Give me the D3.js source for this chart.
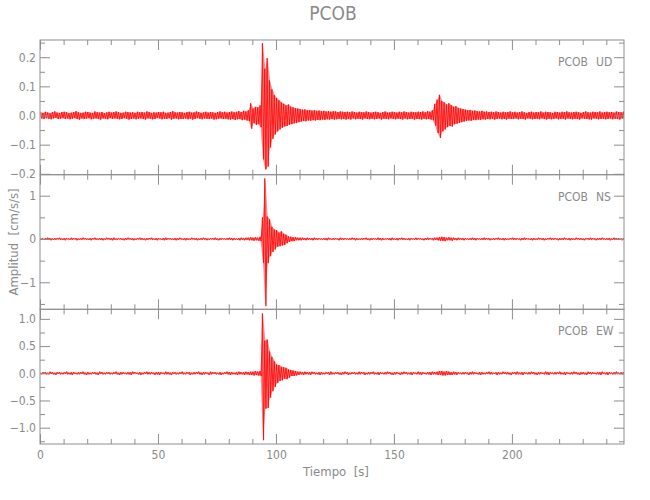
<!DOCTYPE html>
<html><head><meta charset="utf-8">
<script src="https://cdn.jsdelivr.net/npm/d3@7"></script>
<style>
body{margin:0;background:#fff;}
text{font-family:"Liberation Sans Narrow","DejaVu Sans Condensed","Roboto Condensed","Liberation Sans",sans-serif;font-stretch:condensed;fill:#8a8a8a;white-space:pre;}
</style></head><body>
<svg id="c" width="650" height="500"></svg>
<script>
// ---- data (1-second bins: positive and negative excursion of each trace) ----
const title = "PCOB";
const station = "PCOB";
const components = ["UD", "NS", "EW"];
const timeRange = [0, 247.5];
const xMajorTicks = [0, 50, 100, 150, 200];
const xMinorStep = 10;
// units: UD in 0.001 cm/s/s ; NS, EW in 0.01 cm/s/s
const udUnit = 0.001, nsUnit = 0.01, ewUnit = 0.01;
const udHi = [
11,9,13,10,8,12,14,10,9,12, 13,11,8,10,12,15,11,9,10,13, 12,10,9,14,11,10,12,8,11,13,
10,12,14,11,9,10,13,12,10,11, 9,13,11,12,10,14,12,9,11,10, 12,11,13,9,10,12,15,11,10,12,
11,9,12,13,10,11,14,12,9,11, 13,10,12,11,9,12,14,11,13,10, 12,14,11,13,15,12,16,14,18,42,
24,30,28,35,248,160,197,120,90,70, 60,52,45,40,35,38,30,28,25,24, 22,20,21,18,19,17,18,16,17,15,
16,14,15,13,15,14,12,14,13,12, 13,11,14,12,10,13,12,11,14,12, 10,12,13,11,9,12,14,10,11,13,
12,10,13,11,14,12,10,13,12,11, 13,12,14,11,15,13,18,40,55,71, 50,45,38,42,35,30,32,26,24,22,
20,18,19,16,17,15,14,16,13,14, 12,13,11,14,12,10,13,11,12,14, 11,13,10,12,14,11,9,12,13,10,
12,11,14,10,13,12,11,9,13,12, 10,13,12,14,11,10,12,13,11,9, 12,14,11,10,13,12,11,14,10,12,
13,11,12,10,14,12,11,13];
const udLo = [
10,12,9,11,13,10,8,12,11,9, 12,10,13,11,9,12,14,10,12,11, 9,13,11,10,12,14,10,11,13,9,
12,10,11,13,12,9,11,14,12,10, 13,11,10,12,14,10,11,13,12,9, 10,13,11,12,9,14,11,10,13,12,
12,10,13,11,14,12,9,11,13,10, 11,12,10,14,13,11,10,12,11,13, 14,12,15,13,12,16,14,17,19,45,
26,32,30,40,150,185,175,110,80,65, 55,48,42,38,36,32,30,27,26,23, 21,19,20,17,18,16,17,15,16,14,
15,13,14,12,14,13,11,13,12,14, 12,14,10,13,11,12,14,10,12,13, 11,13,12,10,14,11,12,13,10,12,
13,11,12,14,10,13,12,11,14,12, 12,14,11,13,12,14,16,35,60,77, 55,48,40,36,38,30,28,25,23,21,
19,17,18,15,16,14,15,13,14,12, 13,11,14,12,10,13,12,14,11,12, 12,10,13,11,12,14,10,11,13,12,
11,13,10,12,14,11,13,12,10,13, 12,11,14,10,12,13,11,12,14,10, 11,12,13,14,10,11,13,12,11,13,
12,10,13,11,12,14,10,12];
const nsHi = [
2,1,2,3,2,1,2,2,3,1, 2,2,1,3,2,2,1,2,3,2, 1,2,2,3,1,2,2,1,3,2,
2,3,1,2,2,1,2,3,2,2, 1,2,3,2,1,2,2,3,1,2, 2,1,2,3,2,2,1,2,2,3,
1,2,2,1,3,2,2,1,2,3, 2,1,2,2,3,1,2,2,1,2, 3,2,2,1,2,3,2,3,3,4,
3,4,3,5,50,140,52,45,28,22, 20,15,18,12,10,6,5,4,4,3, 3,3,2,3,2,2,3,2,2,1,
2,2,3,1,2,2,1,3,2,2, 1,2,3,2,2,1,2,2,3,1, 2,2,1,3,2,2,1,2,2,3,
1,2,2,3,2,1,2,2,1,3, 2,2,1,2,3,2,2,3,3,4, 5,4,3,4,3,3,2,3,2,2,
2,1,2,3,2,2,1,2,3,2, 2,1,2,2,3,1,2,2,1,2, 3,2,2,1,2,3,2,1,2,2,
1,3,2,2,1,2,3,2,2,1, 2,2,3,1,2,2,1,3,2,2, 1,2,2,3,2,1,2,2,3,1,
2,2,1,3,2,2,1,2];
const nsLo = [
1,2,2,1,3,2,2,1,2,2, 3,1,2,2,1,3,2,2,1,2, 2,3,1,2,2,2,3,2,1,2,
3,2,2,1,2,3,2,1,2,3, 2,1,2,2,3,2,1,2,2,3, 1,2,3,2,1,2,2,3,2,1,
2,3,2,2,1,2,3,2,2,1, 3,2,1,2,2,3,2,1,2,2, 2,3,2,2,3,2,3,2,3,3,
4,3,4,5,55,155,56,40,30,24, 18,17,15,14,10,7,5,5,3,3, 3,2,3,2,2,3,2,2,1,2,
2,3,1,2,2,1,3,2,2,1, 2,2,1,3,2,2,2,1,2,3, 2,1,2,2,3,2,1,2,3,2,
2,3,1,2,2,2,3,1,2,2, 1,2,3,2,2,1,3,2,3,4, 4,5,3,3,4,2,3,2,2,3,
1,2,2,2,3,1,2,2,2,1, 3,2,2,1,2,2,3,2,2,1, 2,2,1,3,2,2,1,2,3,2,
2,1,2,3,2,1,2,2,1,3, 2,2,1,2,3,2,2,1,2,2, 3,1,2,2,1,3,2,2,1,2,
2,3,2,1,2,2,3,1];
const ewHi = [
1,2,2,1,3,2,1,2,2,1, 2,3,1,2,2,1,2,2,3,1, 2,1,2,2,1,3,2,1,2,2,
1,2,3,1,2,2,1,2,2,3, 2,1,2,1,2,3,2,2,1,2, 2,2,1,3,2,1,2,2,1,2,
3,1,2,2,1,2,2,3,1,2, 2,1,3,2,2,1,2,1,2,3, 2,2,1,2,3,2,2,3,2,3,
3,4,3,4,110,60,62,40,30,22, 16,15,12,11,10,7,6,5,4,3, 3,2,3,2,2,3,2,1,2,2,
1,2,2,3,1,2,2,1,2,3, 2,1,2,2,1,3,2,2,1,2, 2,3,1,2,2,1,2,3,2,1,
2,2,1,2,3,2,1,2,2,1, 3,2,2,1,2,2,3,2,3,4, 4,3,4,3,2,3,2,2,1,2,
2,1,2,3,2,1,2,2,1,2, 3,2,1,2,2,1,3,2,2,1, 2,2,3,1,2,2,1,2,3,2,
1,2,2,1,3,2,2,1,2,2, 3,1,2,2,1,2,3,2,1,2, 2,1,3,2,2,1,2,2,3,1,
2,2,1,2,3,1,2,2];
const ewLo = [
2,1,2,2,1,2,3,1,2,2, 1,2,2,3,1,2,2,1,2,3, 2,2,1,2,3,1,2,2,1,2,
2,1,2,3,2,1,2,2,3,1, 1,2,3,2,1,2,2,1,3,2, 3,1,2,2,2,3,1,2,2,1,
2,2,1,3,2,2,1,2,3,2, 1,3,2,1,2,2,3,2,1,2, 3,2,2,3,2,2,3,2,3,3,
4,3,4,5,123,65,64,45,33,25, 18,14,13,10,11,8,5,5,4,3, 2,3,2,2,3,1,2,2,3,2,
2,1,3,2,2,1,2,3,2,1, 3,2,1,2,2,2,1,3,2,2, 1,2,2,3,1,2,2,1,2,3,
2,1,3,2,1,2,2,3,1,2, 2,3,1,2,2,3,2,2,3,3, 4,4,3,3,3,2,3,1,2,2,
1,3,2,2,1,2,3,2,2,1, 2,2,1,3,2,2,1,2,2,3, 1,2,2,2,3,1,2,2,1,2,
3,2,1,2,2,3,1,2,2,1, 2,2,3,1,2,2,1,2,3,2, 2,3,1,2,1,2,2,3,1,2,
3,1,2,2,1,2,2,3];
const udYTicks = [-0.2, -0.1, 0.0, 0.1, 0.2];
const nsYTicks = [-1, 0, 1];
const ewYTicks = [-1.0, -0.5, 0.0, 0.5, 1.0];

// ---- layout ----
const svg = d3.select("#c");
const L = 40, R = 624;
const edges = [40, 174.7, 309.3, 444];
const axisCol = "#8e8e8e";
const x = d3.scaleLinear().domain(timeRange).range([L, R]);

const panels = [
  {comp: components[0], hi: udHi, lo: udLo, unit: udUnit, dom: [-0.203, 0.259], ticks: udYTicks, minor: 0.05, fmt: d3.format(".1f")},
  {comp: components[1], hi: nsHi, lo: nsLo, unit: nsUnit, dom: [-1.624, 1.485], ticks: nsYTicks, minor: 0.5, fmt: d3.format("d")},
  {comp: components[2], hi: ewHi, lo: ewLo, unit: ewUnit, dom: [-1.30, 1.176], ticks: ewYTicks, minor: 0.25, fmt: d3.format(".1f")}
];
const minus = s => s.replace("-", "\u2212");

const xMinor = d3.range(timeRange[0], timeRange[1] + 0.01, xMinorStep).filter(v => !xMajorTicks.includes(v));

panels.forEach((p, k) => {
  const top = edges[k], bot = edges[k + 1];
  const y = d3.scaleLinear().domain(p.dom).range([bot, top]);
  const g = svg.append("g");
  const cid = "clip" + k;
  svg.append("clipPath").attr("id", cid).append("rect")
    .attr("x", L).attr("y", top).attr("width", R - L).attr("height", bot - top);

  // envelope band (light) + trace zigzag through the per-bin extremes
  const env = p.hi.map((v, i) => ({t: i + 0.5, hi: v * p.unit, lo: -p.lo[i] * p.unit}));
  g.append("path").datum(env)
    .attr("clip-path", `url(#${cid})`)
    .attr("fill", "#ff0000").attr("fill-opacity", 0.45).attr("stroke", "none")
    .attr("d", d3.area().x(d => x(d.t)).y0(d => y(d.lo)).y1(d => y(d.hi)));

  const pts = [];
  p.hi.forEach((v, i) => {
    pts.push([i + 0.25, v * p.unit]);
    pts.push([i + 0.75, -p.lo[i] * p.unit]);
  });
  g.append("path").datum(pts)
    .attr("clip-path", `url(#${cid})`)
    .attr("fill", "none").attr("stroke", "#ff0000").attr("stroke-width", 0.8)
    .attr("d", d3.line().x(d => x(d[0])).y(d => y(d[1])));

  // frame
  g.append("rect").attr("x", L).attr("y", top).attr("width", R - L).attr("height", bot - top)
    .attr("fill", "none").attr("stroke", axisCol).attr("stroke-width", 1);

  const minorY = d3.range(Math.ceil(p.dom[0] / p.minor) * p.minor, p.dom[1], p.minor)
    .map(v => +v.toFixed(4)).filter(v => !p.ticks.some(t => Math.abs(t - v) < 1e-6));

  const style = sel => {
    sel.select(".domain").remove();
    sel.selectAll("line").attr("stroke", axisCol);
    sel.selectAll("text").attr("fill", "#8a8a8a").style("font-size", "12px");
  };
  g.append("g").attr("transform", `translate(${L},0)`)
    .call(d3.axisLeft(y).tickValues(p.ticks).tickSize(-10).tickPadding(4).tickFormat(d => minus(p.fmt(d))))
    .call(style);
  g.append("g").attr("transform", `translate(${L},0)`)
    .call(d3.axisLeft(y).tickValues(minorY).tickSize(-5).tickFormat("")).call(style);
  g.append("g").attr("transform", `translate(${R},0)`)
    .call(d3.axisRight(y).tickValues(p.ticks).tickSize(-10).tickFormat("")).call(style);
  g.append("g").attr("transform", `translate(${R},0)`)
    .call(d3.axisRight(y).tickValues(minorY).tickSize(-5).tickFormat("")).call(style);
  g.append("g").attr("transform", `translate(0,${top})`)
    .call(d3.axisTop(x).tickValues(xMajorTicks).tickSize(-10).tickFormat("")).call(style);
  g.append("g").attr("transform", `translate(0,${top})`)
    .call(d3.axisTop(x).tickValues(xMinor).tickSize(-5).tickFormat("")).call(style);
  g.append("g").attr("transform", `translate(0,${bot})`)
    .call(d3.axisBottom(x).tickValues(xMajorTicks).tickSize(-10).tickPadding(6)
      .tickFormat(k === 2 ? d3.format("d") : ""))
    .call(style);
  g.append("g").attr("transform", `translate(0,${bot})`)
    .call(d3.axisBottom(x).tickValues(xMinor).tickSize(-5).tickFormat("")).call(style);

  g.append("text").attr("x", 558).attr("y", top + 26).style("font-size", "12px").text(station);
  g.append("text").attr("x", 596).attr("y", top + 26).style("font-size", "12px").text(p.comp);
});

svg.append("text").attr("x", 333).attr("y", 20).attr("text-anchor", "middle")
  .style("font-size", "19px").text(title);
svg.append("text").attr("x", 336).attr("y", 476).attr("text-anchor", "middle")
  .style("font-size", "13px").text("Tiempo  [s]");
svg.append("text").attr("transform", "translate(18,242) rotate(-90)").attr("text-anchor", "middle")
  .style("font-size", "13px").text("Amplitud  [cm/s/s]");
</script></body></html>
